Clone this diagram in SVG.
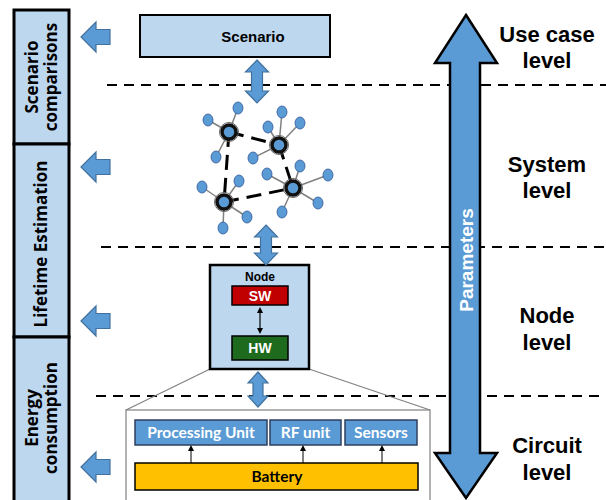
<svg xmlns="http://www.w3.org/2000/svg" width="606" height="500" viewBox="0 0 606 500">
<style>
.lbl{font-family:"Open Sans","Liberation Sans",sans-serif;font-weight:bold;fill:#000;}
.ar{font-family:"Liberation Sans",Arial,sans-serif;font-weight:bold;}
.lvl{font-family:"Liberation Sans",Arial,sans-serif;font-weight:bold;font-size:22px;fill:#000;text-anchor:middle;}
.side{fill:#BDD7EE;stroke:#000;stroke-width:3;}
.blk{fill:#5B9BD5;stroke:#41719C;stroke-width:1.2;}
.dash{stroke:#000;stroke-width:2;stroke-dasharray:10 7;fill:none;}
.sat{fill:#5B9BD5;stroke:#2F5597;stroke-width:0.8;}
.sl{stroke:#808080;stroke-width:1.5;}
.hl{stroke:#000;stroke-width:3;stroke-dasharray:15 8;}
.hub{fill:#5B9BD5;stroke:#111;stroke-width:3.5;}
.cu{fill:#5B9BD5;stroke:#2F3F5F;stroke-width:1.5;}
.cut{font-family:"Lato","Open Sans",sans-serif;font-weight:bold;font-size:15.5px;fill:#fff;text-anchor:middle;}
</style>
<defs>
<marker id="sm" markerWidth="6" markerHeight="6" refX="3" refY="3" orient="auto-start-reverse" markerUnits="userSpaceOnUse">
<path d="M0,0 L6,3 L0,6 z" fill="#000"/>
</marker>
<path id="la" d="M0,0 L15,-15 L15,-7.5 L29,-7.5 L29,7.5 L15,7.5 L15,15 z"/>
</defs>

<!-- dashed level separators -->
<g id="separators">
<line class="dash" x1="107" y1="85" x2="606" y2="85"/>
<line class="dash" x1="101" y1="247" x2="606" y2="247"/>
<line class="dash" x1="96" y1="396" x2="606" y2="396"/>
</g>

<!-- left side boxes -->
<g id="side-scenario">
<rect class="side" x="14" y="10" width="55" height="134"/>
<text class="lbl" font-size="17" text-anchor="middle" transform="translate(41,77) rotate(-90)"><tspan x="0" y="-3">Scenario</tspan><tspan x="0" y="16">comparisons</tspan></text>
</g>
<g id="side-lifetime">
<rect class="side" x="14" y="144" width="55" height="193"/>
<text class="lbl" font-size="17" text-anchor="middle" transform="translate(41,244) rotate(-90)"><tspan x="0" y="6">Lifetime Estimation</tspan></text>
</g>
<g id="side-energy">
<rect class="side" x="14" y="337" width="55" height="170"/>
<text class="lbl" font-size="17" text-anchor="middle" transform="translate(41,418) rotate(-90)"><tspan x="0" y="-3">Energy</tspan><tspan x="0" y="16">consumption</tspan></text>
</g>

<!-- left arrows -->
<g id="left-arrows">
<use href="#la" class="blk" x="81" y="37"/>
<use href="#la" class="blk" x="81" y="167"/>
<use href="#la" class="blk" x="81" y="321"/>
<use href="#la" class="blk" x="81" y="467"/>
</g>

<!-- Scenario -->
<g id="scenario">
<rect x="140" y="15" width="190" height="42" fill="#BDD7EE" stroke="#000" stroke-width="2"/>
<text class="ar" x="253" y="42" font-size="15" text-anchor="middle">Scenario</text>
</g>

<!-- network -->
<g id="network">
<g class="hl">
<line x1="229" y1="132" x2="279" y2="145"/>
<line x1="229" y1="132" x2="224" y2="202"/>
<line x1="279" y1="145" x2="293" y2="188"/>
<line x1="224" y1="202" x2="293" y2="188"/>
</g>
<g class="sl">
<line x1="229" y1="132" x2="238" y2="108"/>
<line x1="229" y1="132" x2="208" y2="120"/>
<line x1="229" y1="132" x2="216" y2="157"/>
<line x1="279" y1="145" x2="282" y2="112"/>
<line x1="279" y1="145" x2="268" y2="127"/>
<line x1="279" y1="145" x2="300" y2="123"/>
<line x1="279" y1="145" x2="253" y2="158"/>
<line x1="224" y1="202" x2="202" y2="187"/>
<line x1="224" y1="202" x2="239" y2="181"/>
<line x1="224" y1="202" x2="247" y2="217"/>
<line x1="224" y1="202" x2="223" y2="228"/>
<line x1="293" y1="188" x2="300" y2="166"/>
<line x1="293" y1="188" x2="267" y2="174"/>
<line x1="293" y1="188" x2="328" y2="175"/>
<line x1="293" y1="188" x2="318" y2="203"/>
<line x1="293" y1="188" x2="282" y2="212"/>
</g>
<g>
<ellipse class="sat" cx="238" cy="108" rx="5" ry="6"/>
<ellipse class="sat" cx="208" cy="120" rx="5" ry="6"/>
<ellipse class="sat" cx="216" cy="157" rx="5" ry="6"/>
<ellipse class="sat" cx="282" cy="112" rx="5" ry="6"/>
<ellipse class="sat" cx="268" cy="127" rx="5" ry="6"/>
<ellipse class="sat" cx="300" cy="123" rx="5" ry="6"/>
<ellipse class="sat" cx="253" cy="158" rx="5" ry="6"/>
<ellipse class="sat" cx="202" cy="187" rx="5" ry="6"/>
<ellipse class="sat" cx="239" cy="181" rx="5" ry="6"/>
<ellipse class="sat" cx="247" cy="217" rx="5" ry="6"/>
<ellipse class="sat" cx="223" cy="228" rx="5" ry="6"/>
<ellipse class="sat" cx="300" cy="166" rx="5" ry="6"/>
<ellipse class="sat" cx="267" cy="174" rx="5" ry="6"/>
<ellipse class="sat" cx="328" cy="175" rx="5" ry="6"/>
<ellipse class="sat" cx="318" cy="203" rx="5" ry="6"/>
<ellipse class="sat" cx="282" cy="212" rx="5" ry="6"/>
</g>
<g>
<circle cx="229" cy="132" r="9.5" fill="none" stroke="#666" stroke-width="1"/>
<circle class="hub" cx="229" cy="132" r="7"/>
<circle cx="279" cy="145" r="9.5" fill="none" stroke="#666" stroke-width="1"/>
<circle class="hub" cx="279" cy="145" r="7"/>
<circle cx="293" cy="188" r="9.5" fill="none" stroke="#666" stroke-width="1"/>
<circle class="hub" cx="293" cy="188" r="7"/>
<circle cx="224" cy="202" r="9.5" fill="none" stroke="#666" stroke-width="1"/>
<circle class="hub" cx="224" cy="202" r="7"/>
</g>
</g>

<!-- zoom lines and circuit box -->
<g id="circuit">
<line x1="210" y1="369" x2="126" y2="410" stroke="#808080" stroke-width="1.2"/>
<line x1="309" y1="369" x2="430" y2="410" stroke="#808080" stroke-width="1.2"/>
<rect x="126" y="410" width="304" height="100" fill="#fff" stroke="#808080" stroke-width="1.2"/>
</g>
<g id="processing-unit">
<rect class="cu" x="135" y="420" width="132" height="25"/>
<text class="cut" x="201" y="438">Processing Unit</text>
</g>
<g id="rf-unit">
<rect class="cu" x="270" y="420" width="71" height="25"/>
<text class="cut" x="305.5" y="438">RF unit</text>
</g>
<g id="sensors">
<rect class="cu" x="345" y="420" width="72" height="25"/>
<text class="cut" x="381" y="438">Sensors</text>
</g>
<g id="battery">
<rect x="135" y="463" width="283" height="27" fill="#FFC000" stroke="#000" stroke-width="1.5"/>
<text x="277" y="482" font-family="Lato,'Open Sans',sans-serif" font-weight="bold" font-size="15.5" fill="#000" text-anchor="middle">Battery</text>
</g>

<!-- Node -->
<g id="node">
<rect x="210" y="265" width="99" height="104" fill="#BDD7EE" stroke="#000" stroke-width="2.5"/>
<text class="ar" x="260" y="281" font-size="12" text-anchor="middle">Node</text>
</g>
<g id="sw">
<rect x="232" y="286" width="56" height="19" fill="#C00000" stroke="#000" stroke-width="1.5"/>
<text class="ar" x="260" y="301" font-size="14" fill="#fff" text-anchor="middle">SW</text>
</g>
<g id="hw">
<rect x="232" y="336" width="56" height="24" fill="#1E6B1E" stroke="#000" stroke-width="1.5"/>
<text class="ar" x="260" y="353" font-size="14" fill="#fff" text-anchor="middle">HW</text>
</g>

<!-- connectors -->
<g id="connectors">
<path class="blk" d="M257,60 L268.5,72 L262.5,72 L262.5,91 L268.5,91 L257,103 L245.5,91 L251.5,91 L251.5,72 L245.5,72 z"/>
<path class="blk" d="M266,225 L277.5,237 L271.5,237 L271.5,253 L277.5,253 L266,265 L254.5,253 L260.5,253 L260.5,237 L254.5,237 z"/>
<path class="blk" d="M258,372 L268,383 L263,383 L263,396 L268,396 L258,407 L248,396 L253,396 L253,383 L248,383 z"/>
<line x1="260" y1="310" x2="260" y2="331" stroke="#000" stroke-width="1.2" marker-start="url(#sm)" marker-end="url(#sm)"/>
<line x1="191" y1="463" x2="191" y2="448" stroke="#000" stroke-width="1" marker-end="url(#sm)"/>
<line x1="303" y1="463" x2="303" y2="448" stroke="#000" stroke-width="1" marker-end="url(#sm)"/>
<line x1="382" y1="463" x2="382" y2="448" stroke="#000" stroke-width="1" marker-end="url(#sm)"/>
</g>

<!-- Parameters arrow -->
<g id="parameters">
<path d="M466,15 L497,63 L480,63 L480,453 L497,453 L466,498 L435,453 L450,453 L450,63 L435,63 z" fill="#5B9BD5" stroke="#000" stroke-width="2.5" stroke-linejoin="miter"/>
<text class="ar" font-size="19" fill="#fff" text-anchor="middle" transform="translate(466,260) rotate(-90)" y="7">Parameters</text>
</g>

<!-- level labels -->
<g id="levels">
<text class="lvl" x="547" y="42">Use case</text>
<text class="lvl" x="547" y="68">level</text>
<text class="lvl" x="547" y="172">System</text>
<text class="lvl" x="547" y="198">level</text>
<text class="lvl" x="547" y="323">Node</text>
<text class="lvl" x="547" y="350">level</text>
<text class="lvl" x="547" y="453">Circuit</text>
<text class="lvl" x="547" y="480">level</text>
</g>
</svg>
